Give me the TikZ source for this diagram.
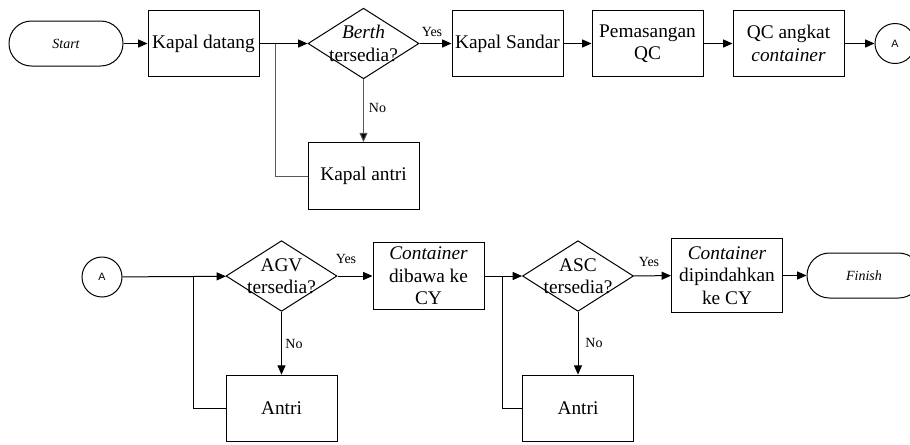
\documentclass[tikz,border=0pt]{standalone}
\usepackage{fontspec}
\setmainfont{Liberation Serif}
\newfontfamily\labelsans{Liberation Sans}
\usetikzlibrary{shapes.geometric,arrows.meta}

\begin{document}
\begin{tikzpicture}[x=0.75pt,y=-0.75pt,
  every node/.style={inner sep=0pt},
  line/.style={line width=0.75pt,draw=black},
  flow/.style={line, -{Triangle[length=7pt,width=6pt]}},
  greyline/.style={line width=0.75pt,draw=black!65},
  greyflow/.style={greyline, -{Triangle[length=7pt,width=6pt,fill=black]}},
  procbox/.style={draw, line width=0.75pt, rectangle, align=center,
    minimum width=83.25pt, minimum height=50pt,
    font=\fontsize{14.5}{16.8}\selectfont},
  decision/.style={draw, line width=0.75pt, diamond,
    minimum width=83.25pt, minimum height=53pt},
  dectext/.style={align=center, font=\fontsize{14.5}{16.8}\selectfont},
  terminal/.style={draw, line width=0.75pt, rectangle, rounded corners=16.8pt,
    minimum width=85.5pt, minimum height=33.75pt,
    font=\fontsize{10.5}{12}\selectfont\itshape},
  connector/.style={draw, line width=0.75pt, circle, minimum size=30pt,
    font=\labelsans\fontsize{8}{9}\selectfont},
  branchlabel/.style={font=\fontsize{10.5}{12}\selectfont}
]
\useasboundingbox (0,0) rectangle (910,444);
\clip (0,0) rectangle (910,444);

% ---- upper row: ship arrival and unloading ----
\node[terminal] (start) at (66,43.5) {Start};
\node[procbox] (datang) at (203.5,43.5) {Kapal datang};
\node[decision] (berth) at (363.5,43.5) {};
\node[dectext] (berthtext) at (363.5,43.5) {\textit{Berth}\\tersedia?};
\node[procbox] (sandar) at (507.5,43.5) {Kapal Sandar};
\node[procbox] (pasang) at (647.5,43.5) {Pemasangan\\QC};
\node[procbox] (angkat) at (788.5,43.5) {QC angkat\\\textit{container}};
\node[connector] (aout) at (895,43.5) {A};
\node[procbox] (antrikapal) at (363.5,176) {Kapal antri};
\coordinate (j1) at (275,43.5);

\draw[flow] (start) -- (datang);
\draw[flow] (datang) -- (berth);
\draw[flow] (berth) -- (sandar);
\draw[flow] (sandar) -- (pasang);
\draw[flow] (pasang) -- (angkat);
\draw[flow] (angkat) -- (aout);
\draw[greyflow] (berth.south) -- (antrikapal.north);
\draw[greyline] (antrikapal.west) -| (j1);
\node[branchlabel] (yes1) at (432,32) {Yes};
\node[branchlabel] (no1) at (377.5,108) {No};

% ---- lower row: container transfer to the yard ----
\node[connector] (ain) at (102,277) {A};
\node[decision] (agv) at (281.5,276) {};
\node[dectext] (agvtext) at (281.5,276) {AGV\\tersedia?};
\node[procbox] (dibawa) at (428.5,276) {\textit{Container}\\dibawa ke\\CY};
\node[decision] (asc) at (578,276) {};
\node[dectext] (asctext) at (578,276) {ASC\\tersedia?};
\node[procbox, minimum height=56pt] (pindah) at (727,275.5) {\textit{Container}\\dipindahkan\\ke CY};
\node[terminal] (finish) at (864,275.5) {Finish};
\node[procbox] (antri1) at (281.5,408.5) {Antri};
\node[procbox] (antri2) at (578,408.5) {Antri};
\coordinate (j2) at (193,276);
\coordinate (j3) at (502,276);

\draw[flow] (ain) -- (agv);
\draw[flow] (agv) -- (dibawa);
\draw[flow] (agv.south) -- (antri1.north);
\draw[line] (antri1.west) -| (j2);
\draw[flow] (dibawa) -- (asc);
\draw[flow] (asc) -- (pindah);
\draw[flow] (asc.south) -- (antri2.north);
\draw[line] (antri2.west) -| (j3);
\draw[flow] (pindah) -- (finish);
\node[branchlabel] (yes2) at (346,259) {Yes};
\node[branchlabel] (no2) at (294,344) {No};
\node[branchlabel] (yes3) at (649,262) {Yes};
\node[branchlabel] (no3) at (594,343) {No};
\end{tikzpicture}
\end{document}
